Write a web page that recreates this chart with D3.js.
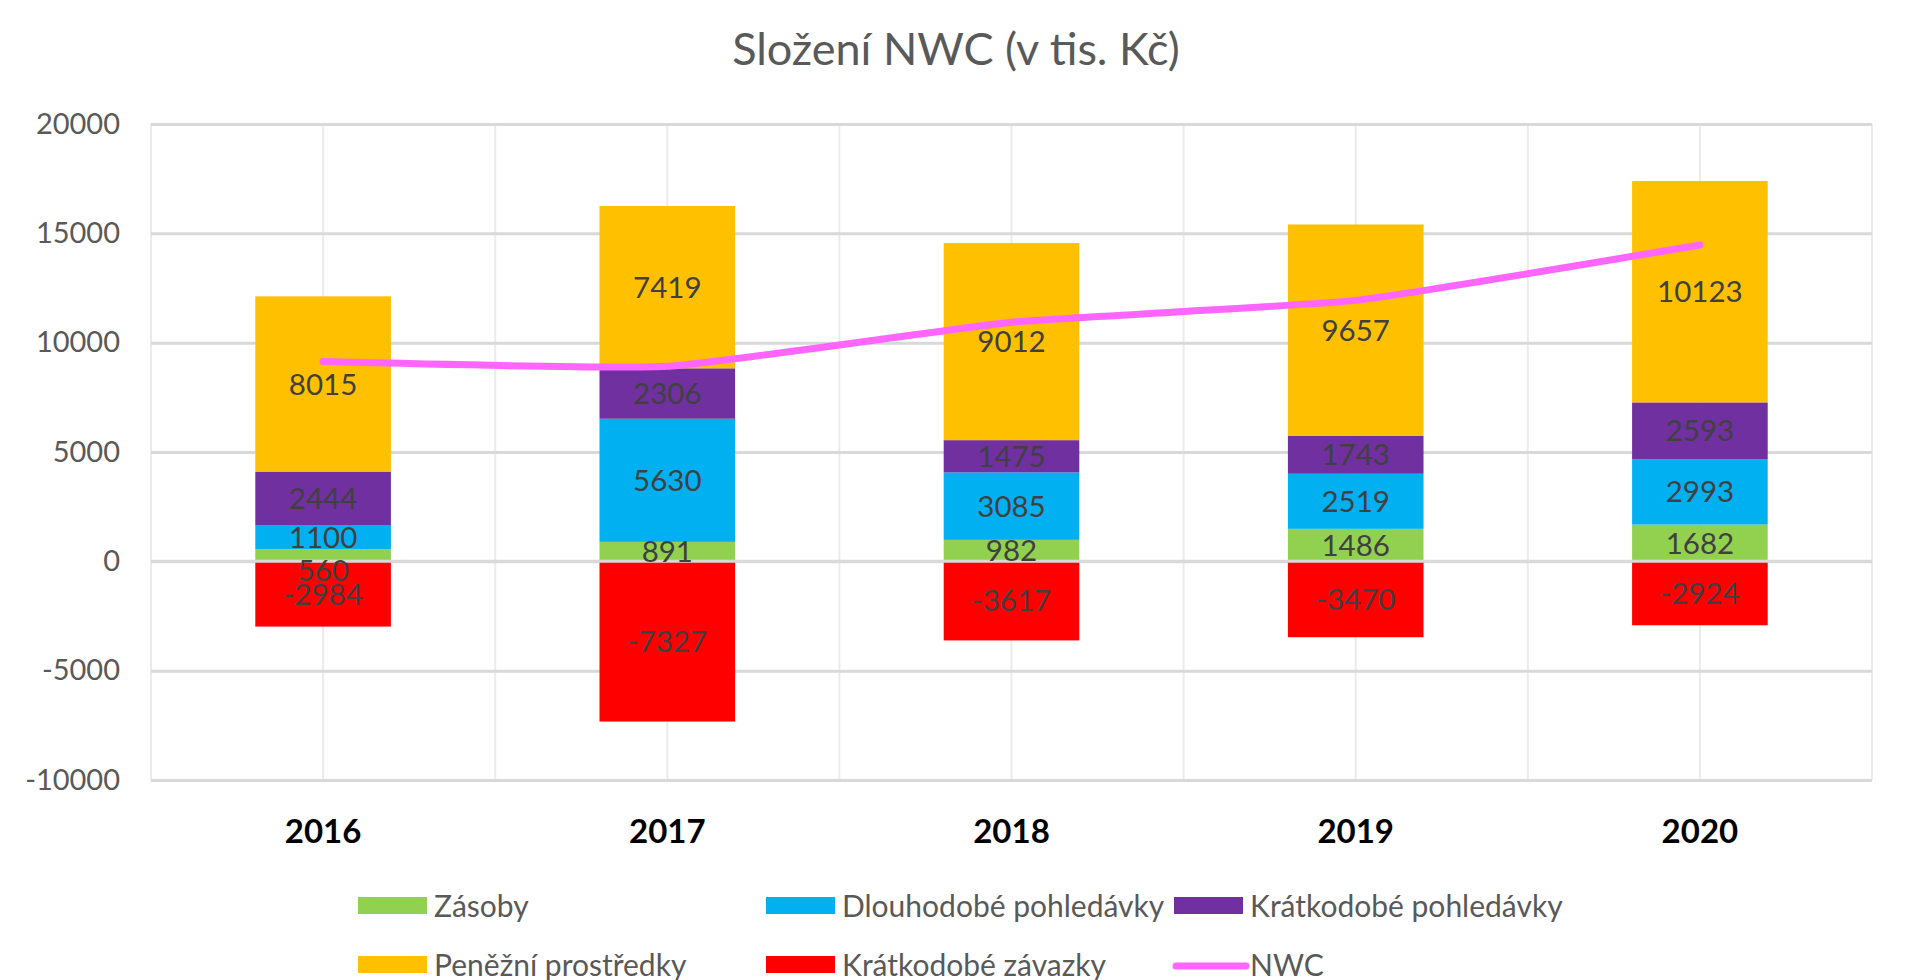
<!DOCTYPE html>
<html>
<head>
<meta charset="utf-8">
<script src="https://cdn.jsdelivr.net/npm/d3@7"></script>
<style>
  html, body { margin: 0; padding: 0; background: #ffffff; }
  svg { display: block; }
  text { font-family: Lato, "Open Sans", sans-serif; }
</style>
</head>
<body>
<svg id="chart" width="1906" height="980"></svg>
<script>
// ---- data ----
const categories = ["2016", "2017", "2018", "2019", "2020"];
const zasoby = [560, 891, 982, 1486, 1682];
const dlouhodobePohledavky = [1100, 5630, 3085, 2519, 2993];
const kratkodobePohledavky = [2444, 2306, 1475, 1743, 2593];
const penezniProstredky = [8015, 7419, 9012, 9657, 10123];
const kratkodobeZavazky = [-2984, -7327, -3617, -3470, -2924];
const nwc = [9135, 8919, 10937, 11935, 14467];
const yTicks = [-10000, -5000, 0, 5000, 10000, 15000, 20000];
const seriesNames = ["Zásoby", "Dlouhodobé pohledávky", "Krátkodobé pohledávky", "Peněžní prostředky", "Krátkodobé závazky"];
const lineName = "NWC";
const titleText = "Složení NWC (v tis. Kč)";

// ---- styles ----
const colors = ["#92D050", "#00B0F0", "#7030A0", "#FFC000", "#FF0000"];
const lineColor = "#FF66FF";

const seriesValues = [zasoby, dlouhodobePohledavky, kratkodobePohledavky, penezniProstredky, kratkodobeZavazky];
const rows = categories.map((c, i) => {
  const r = { cat: c };
  seriesNames.forEach((s, j) => r[s] = seriesValues[j][i]);
  return r;
});

const svg = d3.select("#chart");
const L = 151, R = 1872, T = 124, B = 780;

const x = d3.scaleBand().domain(categories).range([L, R]).paddingInner(0.606).paddingOuter(0.303);
const y = d3.scaleLinear().domain([-10000, 20000]).range([B, T]);
const step = x.step();
const cx = c => x(c) + x.bandwidth() / 2;
const hyphenFmt = d => String(d).replace("\u2212", "-");

// title
svg.append("text")
  .attr("x", 956).attr("y", 65)
  .attr("text-anchor", "middle")
  .attr("font-size", 45)
  .attr("fill", "#595959")
  .text(titleText);

// vertical gridlines (category centres and boundaries)
const vLines = [];
categories.forEach(c => { vLines.push(cx(c) - step / 2); vLines.push(cx(c)); });
vLines.push(R);
svg.append("g").selectAll("line").data(vLines).join("line")
  .attr("x1", d => d).attr("x2", d => d)
  .attr("y1", T).attr("y2", B)
  .attr("stroke", "#ebebeb").attr("stroke-width", 2);

// horizontal gridlines
const yGrid = svg.append("g").attr("transform", `translate(${L},0)`)
  .call(d3.axisLeft(y).tickValues(yTicks).tickSize(-(R - L)).tickFormat(""));
yGrid.select(".domain").remove();
yGrid.selectAll(".tick line").attr("stroke", "#d9d9d9").attr("stroke-width", 3);

// y labels
const yAxis = svg.append("g").attr("transform", `translate(${L},0)`)
  .call(d3.axisLeft(y).tickValues(yTicks).tickSize(0).tickPadding(31).tickFormat(hyphenFmt));
yAxis.select(".domain").remove();
yAxis.selectAll("text")
  .attr("font-size", 29)
  .attr("fill", "#595959")
  .attr("font-family", "Lato, sans-serif");

// stacked bars
const stack = d3.stack().keys(seriesNames).offset(d3.stackOffsetDiverging);
const stacked = stack(rows);

const gBars = svg.append("g");
stacked.forEach((layer, j) => {
  gBars.append("g").attr("fill", colors[j])
    .selectAll("rect").data(layer).join("rect")
    .attr("x", d => x(d.data.cat))
    .attr("width", x.bandwidth())
    .attr("y", d => y(Math.max(d[0], d[1])))
    .attr("height", d => Math.abs(y(d[0]) - y(d[1])));
});

// zero line on top of bars
svg.append("line")
  .attr("x1", L).attr("x2", R)
  .attr("y1", y(0)).attr("y2", y(0))
  .attr("stroke", "#d9d9d9").attr("stroke-width", 3);

// data labels
const gLabels = svg.append("g");
stacked.forEach((layer, j) => {
  gLabels.append("g").selectAll("text").data(layer).join("text")
    .attr("x", d => cx(d.data.cat))
    .attr("y", (d, i) => {
      let yy = y((d[0] + d[1]) / 2);
      if (j === 0 && i === 0) yy += 15; // small-segment label sits lower, as in the original
      return yy;
    })
    .attr("dy", "0.36em")
    .attr("text-anchor", "middle")
    .attr("font-size", 29.5)
    .attr("fill", "#404040")
    .text(d => d.data[layer.key]);
});

// NWC line
const line = d3.line()
  .x((d, i) => cx(categories[i]))
  .y(d => y(d))
  .curve(d3.curveCardinal.tension(0.6));
svg.append("path")
  .datum(nwc)
  .attr("d", line)
  .attr("fill", "none")
  .attr("stroke", lineColor)
  .attr("stroke-width", 7)
  .attr("stroke-linecap", "round")
  .attr("stroke-linejoin", "round");

// x labels
const xAxis = svg.append("g").attr("transform", `translate(0,${B})`)
  .call(d3.axisBottom(x).tickSize(0).tickPadding(0));
xAxis.select(".domain").remove();
xAxis.selectAll("text")
  .attr("y", 63)
  .attr("dy", 0)
  .attr("font-size", 33)
  .attr("font-weight", "bold")
  .attr("fill", "#000000")
  .attr("font-family", "Lato, sans-serif");

// legend
const legendItems = [
  { name: seriesNames[0], color: colors[0], type: "rect", col: 0, row: 0 },
  { name: seriesNames[1], color: colors[1], type: "rect", col: 1, row: 0 },
  { name: seriesNames[2], color: colors[2], type: "rect", col: 2, row: 0 },
  { name: seriesNames[3], color: colors[3], type: "rect", col: 0, row: 1 },
  { name: seriesNames[4], color: colors[4], type: "rect", col: 1, row: 1 },
  { name: lineName, color: lineColor, type: "line", col: 2, row: 1 }
];
const colX = [358, 766, 1174];
const rowY = [906, 965];
const gLeg = svg.append("g");
legendItems.forEach(it => {
  const gx = colX[it.col], gy = rowY[it.row];
  if (it.type === "rect") {
    gLeg.append("rect").attr("x", gx).attr("y", gy - 9).attr("width", 69).attr("height", 17).attr("fill", it.color);
  } else {
    gLeg.append("line").attr("x1", gx + 2).attr("x2", gx + 72).attr("y1", gy + 1).attr("y2", gy + 1)
      .attr("stroke", it.color).attr("stroke-width", 7).attr("stroke-linecap", "round");
  }
  gLeg.append("text").attr("x", gx + 76).attr("y", gy).attr("dy", "0.36em")
    .attr("font-size", 30).attr("fill", "#595959").text(it.name);
});
</script>
</body>
</html>
